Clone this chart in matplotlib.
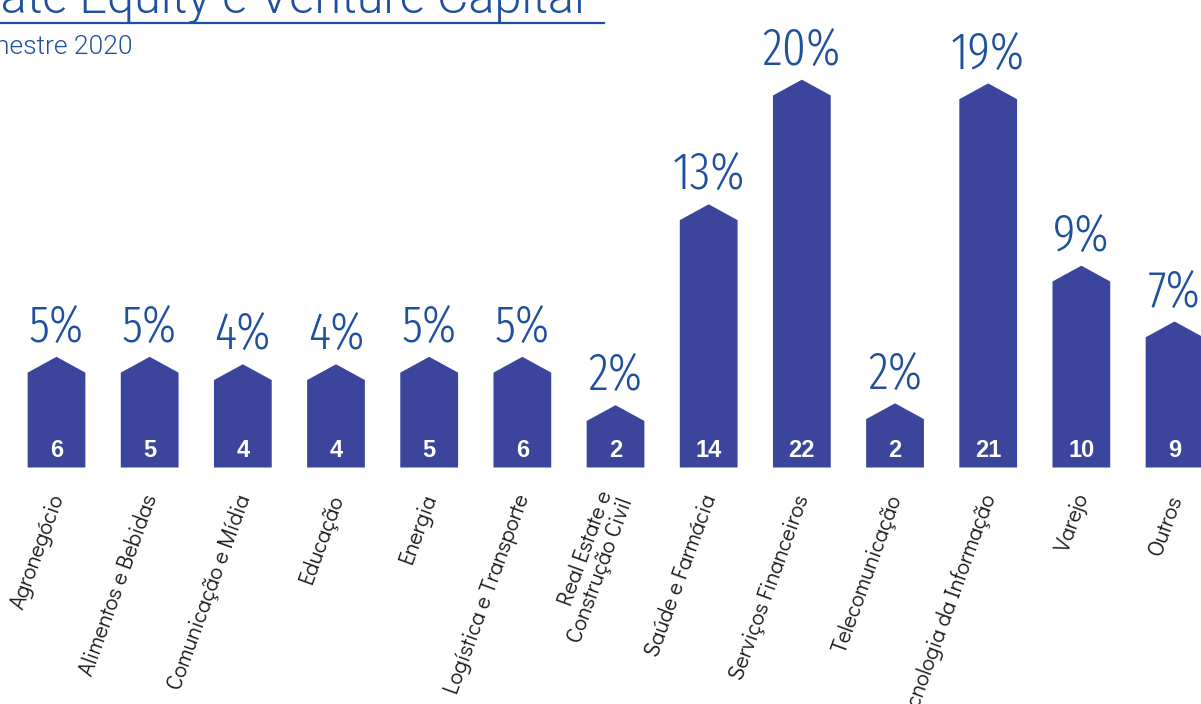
import matplotlib
matplotlib.use("Agg")
import matplotlib.pyplot as plt
from matplotlib.patches import Polygon
from matplotlib.lines import Line2D
import numpy as np

categories = ["Agronegócio", "Alimentos e Bebidas", "Comunicação e Mídia", "Educação",
              "Energia", "Logística e Transporte", "Real Estate e\nConstrução Civil",
              "Saúde e Farmácia", "Serviços Financeiros", "Telecomunicação",
              "Tecnologia da Informação", "Varejo", "Outros"]
pct_labels = [5, 5, 4, 4, 5, 5, 2, 13, 20, 2, 19, 9, 7]
counts = [6, 5, 4, 4, 5, 6, 2, 14, 22, 2, 21, 10, 9]
# bar (shoulder) heights as drawn, in percent units
bar_heights = [5.1, 5.1, 4.7, 4.7, 5.1, 5.1, 2.5, 13.3, 20.0, 2.6, 19.8, 10.0, 7.0]

BAR = "#3A459B"
BLUE = "#1F509E"

W, H = 1201, 704
fig = plt.figure(figsize=(W / 100, H / 100), dpi=100)
fig.patch.set_facecolor("white")

px_x = 93.17
px_y = 18.6
base_px = 467.5
ax = fig.add_axes([0, (H - base_px) / H, 1, base_px / H])
ax.set_xlim(-56.5 / px_x, -56.5 / px_x + W / px_x)
ax.set_ylim(0, base_px / px_y)
ax.axis("off")

x = np.arange(len(categories))
half = 0.31
tip = 0.85

for xi, h, p, c, cat in zip(x, bar_heights, pct_labels, counts, categories):
    poly = Polygon([(xi - half, 0), (xi - half, h), (xi, h + tip), (xi + half, h), (xi + half, 0)],
                   closed=True, facecolor=BAR, edgecolor="none")
    ax.add_patch(poly)
    ax.text(xi, h + tip + 0.75, f"{p}%", ha="center", va="baseline", color=BLUE,
            fontsize=37, family=["Fira Sans Extra Condensed", "DejaVu Sans"], fontweight=300)
    ax.text(xi, 0.55, str(c), ha="center", va="baseline", color="white",
            fontsize=17, fontweight="bold", family="Liberation Sans")
    ax.text(xi + 0.02, -1.5, cat, ha="right", va="center", rotation=70,
            rotation_mode="anchor", fontsize=16, family=["Didact Gothic", "DejaVu Sans"],
            color="#1a1a1a", clip_on=False, multialignment="right", linespacing=1.0)

# title and subtitle (cropped in the reference)
fig.text(585 / W, (H - 13) / H, "Private Equity e Venture Capital", ha="right", va="baseline",
         fontsize=35, color=BLUE, family="Roboto", fontweight=300)
fig.add_artist(Line2D([0, 604 / W], [(H - 22.5) / H] * 2, transform=fig.transFigure,
                      color=BLUE, linewidth=1.6))
fig.text(133 / W, (H - 54) / H, "semestre 2020", ha="right", va="baseline",
         fontsize=19, color=BLUE, family="Roboto", fontweight=300)

fig.savefig("out.png", dpi=100)
